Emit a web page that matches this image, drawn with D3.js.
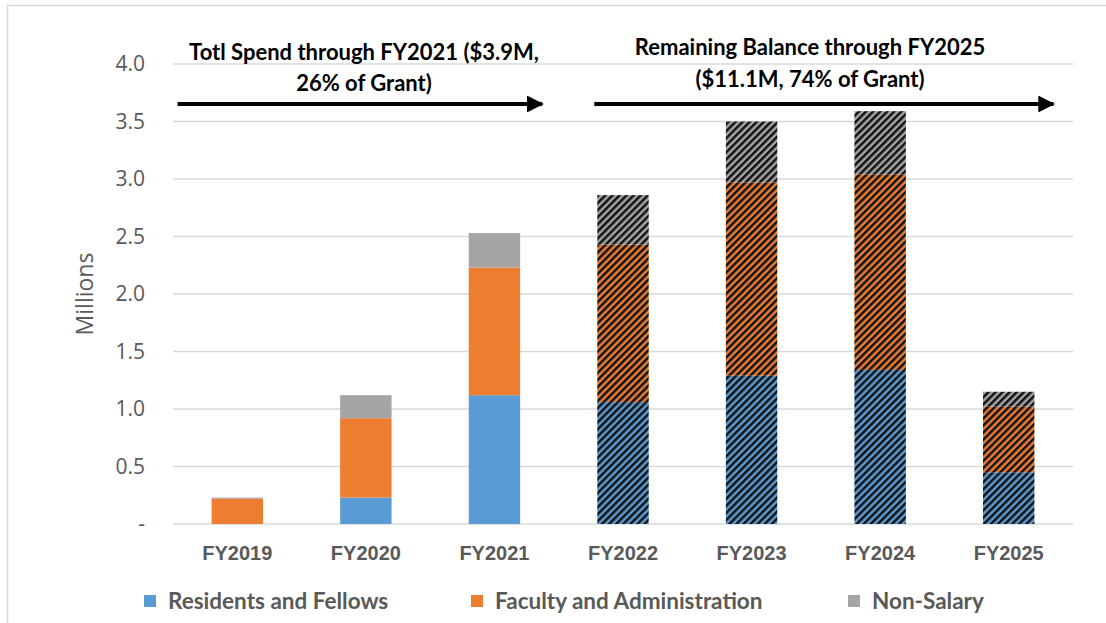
<!DOCTYPE html>
<html><head><meta charset="utf-8">
<script src="https://cdn.jsdelivr.net/npm/d3@7"></script>
<style>
body{margin:0;background:#fff;}
svg{display:block;font-family:Lato,"Open Sans",sans-serif;}
</style></head>
<body>
<svg id="chart" width="1106" height="623"></svg>
<script>
const categories = ["FY2019","FY2020","FY2021","FY2022","FY2023","FY2024","FY2025"];
const residents = [0, 0.23, 1.12, 1.06, 1.29, 1.34, 0.45];
const faculty   = [0.22, 0.69, 1.11, 1.37, 1.68, 1.70, 0.57];
const nonSalary = [0.01, 0.20, 0.30, 0.43, 0.53, 0.55, 0.13];
const projected = [false, false, false, true, true, true, true];
const seriesNames = ["Residents and Fellows","Faculty and Administration","Non-Salary"];
const seriesColors = ["#5b9bd5","#ed7d31","#a5a5a5"];
const yTicks = [0,0.5,1,1.5,2,2.5,3,3.5,4];
const yTickLabels = ["-","0.5","1.0","1.5","2.0","2.5","3.0","3.5","4.0"];
const annotations = [
  {lines:["Totl Spend through FY2021 ($3.9M,","26% of Grant)"], from:"FY2019", to:"FY2021"},
  {lines:["Remaining Balance through FY2025","($11.1M, 74% of Grant)"], from:"FY2022", to:"FY2025"}
];

const svg = d3.select("#chart");
const W = 1106, H = 623;
const m = {left:173, right:1073, top:64, bottom:524};

// outer border
svg.append("rect").attr("x",7.5).attr("y",5.5).attr("width",W+10).attr("height",H+10)
  .attr("fill","none").attr("stroke","#d9d9d9").attr("stroke-width",1.5);

const x = d3.scaleBand().domain(categories).range([m.left,m.right]).paddingInner(0.6).paddingOuter(0.3);
const y = d3.scaleLinear().domain([0,4]).range([m.bottom,m.top]);

// patterns
const defs = svg.append("defs");
seriesColors.forEach((c,i)=>{
  const p = defs.append("pattern").attr("id","hatch"+i).attr("patternUnits","userSpaceOnUse")
    .attr("width",5).attr("height",10).attr("patternTransform","rotate(45)");
  p.append("rect").attr("width",5).attr("height",10).attr("fill",c);
  p.append("rect").attr("width",2.5).attr("height",10).attr("fill","#111");
});

// gridlines
svg.append("g").selectAll("line").data(yTicks).join("line")
  .attr("x1",m.left).attr("x2",m.right)
  .attr("y1",d=>y(d)).attr("y2",d=>y(d))
  .attr("stroke","#d9d9d9").attr("stroke-width",1.5);

// y axis labels
const yAxis = d3.axisLeft(y).tickValues(yTicks).tickFormat((d,i)=>yTickLabels[i]).tickSize(0).tickPadding(28);
const ya = svg.append("g").attr("transform",`translate(${m.left},0)`).call(yAxis);
ya.select(".domain").remove();
ya.selectAll("text").attr("fill","#595959").attr("font-size",21).attr("font-family","'Open Sans',sans-serif");

svg.append("text").attr("transform",`translate(93,${(m.top+m.bottom)/2}) rotate(-90)`)
  .attr("text-anchor","middle").attr("fill","#595959").attr("font-size",23)
  .attr("font-family","'Open Sans',sans-serif").text("Millions");

// x axis labels
const xAxis = d3.axisBottom(x).tickSize(0).tickPadding(22);
const xa = svg.append("g").attr("transform",`translate(0,${m.bottom})`).call(xAxis);
xa.select(".domain").remove();
xa.selectAll("text").attr("fill","#595959").attr("font-size",20).attr("font-weight","bold");

// stacked bars
const rows = categories.map((c,i)=>({cat:c, r:residents[i], f:faculty[i], n:nonSalary[i], proj:projected[i]}));
const stack = d3.stack().keys(["r","f","n"])(rows);
stack.forEach((layer,li)=>{
  svg.append("g").selectAll("rect").data(layer).join("rect")
    .attr("x",d=>x(d.data.cat)).attr("width",x.bandwidth())
    .attr("y",d=>y(d[1])).attr("height",d=>y(d[0])-y(d[1]))
    .attr("fill",d=>d.data.proj ? `url(#hatch${li})` : seriesColors[li]);
});

// annotations
defs.append("marker").attr("id","arrowhead").attr("viewBox","0 0 10 10").attr("refX",9).attr("refY",5)
  .attr("markerWidth",4.2).attr("markerHeight",4.2).attr("orient","auto").attr("markerUnits","strokeWidth")
  .append("path").attr("d","M0,0 L10,5 L0,10 Z").attr("fill","#000");
annotations.forEach((a,ai)=>{
  const x0 = x(a.from) - (ai===0 ? 34 : 3);
  const x1 = x(a.to) + x.bandwidth() + (ai===0 ? 24 : 21);
  const ay = 104;
  svg.append("line").attr("x1",x0).attr("x2",x1-2).attr("y1",ay).attr("y2",ay)
    .attr("stroke","#000").attr("stroke-width",4).attr("marker-end","url(#arrowhead)");
  const cx = ai===0 ? 364 : 810;
  const ys = ai===0 ? [60,91] : [55,87];
  a.lines.forEach((t,k)=>{
    svg.append("text").attr("x",cx).attr("y",ys[k]).attr("text-anchor","middle")
      .attr("font-size",22).attr("font-weight","bold").attr("fill","#000").text(t);
  });
});

// legend
const legendX = [144,471,848];
seriesNames.forEach((n,i)=>{
  const g = svg.append("g").attr("transform",`translate(${legendX[i]},601)`);
  g.append("rect").attr("x",0).attr("y",-6).attr("width",12).attr("height",12).attr("fill",seriesColors[i]);
  g.append("text").attr("x",24).attr("y",8).attr("font-size",22.5).attr("font-weight","bold")
    .attr("fill","#595959").text(n);
});
</script>
</body></html>
